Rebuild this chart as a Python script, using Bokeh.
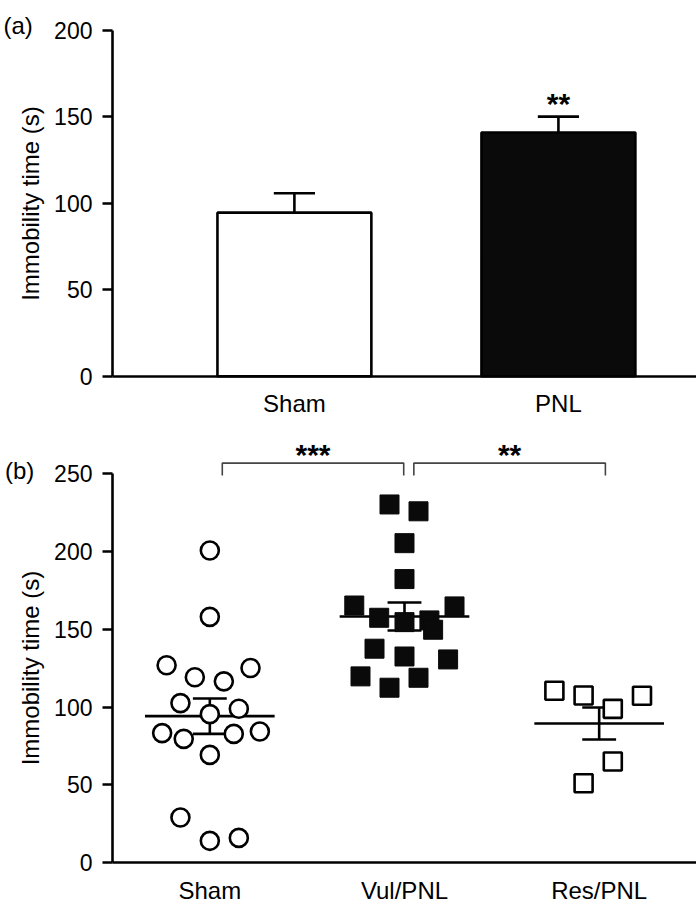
from bokeh.plotting import figure
from bokeh.layouts import column
from bokeh.models import Range1d, FixedTicker
from bokeh.embed import file_html
from bokeh.resources import INLINE
from bokeh.core.properties import value
import numpy as np

FONT = "Liberation Sans"

# ---------------- data: panel (a) ----------------
groups_a = ["Sham", "PNL"]
means_a = [94.5, 140.8]
sems_a = [11.2, 9.2]
fills_a = ["#ffffff", "#0a0a0a"]
stars_a = ["", "**"]

# ---------------- data: panel (b) ----------------
groups_b = ["Sham", "Vul/PNL", "Res/PNL"]
sham_vals = [200.8, 158.1, 127.0, 125.2, 119.2, 116.6, 102.6, 99.0, 95.5,
             83.3, 79.6, 82.8, 84.3, 69.3, 29.0, 14.0, 15.9]
sham_jitter = [0, 0, -0.222, 0.209, -0.077, 0.072, -0.151, 0.149, 0,
               -0.245, -0.134, 0.123, 0.257, 0, -0.151, 0, 0.149]
vul_vals = [230.4, 226.0, 205.5, 182.4, 165.4, 164.8, 157.5, 154.7, 155.8,
            149.8, 137.6, 132.6, 130.7, 119.8, 118.9, 112.5]
vul_jitter = [-0.077, 0.072, 0, 0, -0.258, 0.257, -0.130, 0, 0.128,
              0.147, -0.154, 0, 0.224, -0.226, 0.072, -0.077]
res_vals = [110.6, 107.5, 98.9, 107.3, 65.0, 51.0]
res_jitter = [-0.23, -0.08, 0.07, 0.22, 0.07, -0.08]
means_b = [94.2, 158.3, 89.5]
sems_b = [11.4, 9.0, 10.3]
brackets_b = [(0, 1, "***"), (1, 2, "**")]


def style(p, yticks, ybounds, xbounds, xloc, yloc, xstandoff):
    p.outline_line_color = None
    p.xgrid.visible = False
    p.ygrid.visible = False
    p.background_fill_color = "white"
    p.border_fill_color = "white"
    for ax in (p.xaxis[0], p.yaxis[0]):
        ax.axis_line_width = 2.6
        ax.axis_line_color = "black"
        ax.major_tick_line_width = 2.6
        ax.major_tick_line_color = "black"
        ax.minor_tick_line_color = None
        ax.major_tick_in = 0
        ax.major_label_text_color = "black"
        ax.major_label_text_font = FONT
        ax.axis_label_text_font = FONT
        ax.axis_label_text_font_style = "normal"
        ax.axis_label_text_color = "black"
    p.xaxis.fixed_location = xloc
    p.xaxis.major_tick_out = 0
    p.xaxis.major_label_text_font_size = "24px"
    p.xaxis.major_label_standoff = xstandoff
    p.xaxis.bounds = xbounds
    p.yaxis.fixed_location = yloc
    p.yaxis.major_tick_out = 10
    p.yaxis.major_label_text_font_size = "23px"
    p.yaxis.major_label_standoff = 10
    p.yaxis.axis_label = "Immobility time (s)"
    p.yaxis.axis_label_text_font_size = "24px"
    p.yaxis.axis_label_standoff = 7
    p.yaxis.ticker = FixedTicker(ticks=yticks)
    p.yaxis.bounds = ybounds


# ---------------- panel (a) ----------------
xa = np.arange(len(groups_a)) + 1
xa0, xa1 = 0.311, 2.523
pa = figure(width=696, height=428, output_backend="svg", toolbar_location=None,
            x_range=Range1d(-0.1132, xa1), y_range=Range1d(-30.22, 217.1),
            min_border_left=0, min_border_right=0, min_border_top=0,
            min_border_bottom=0)
style(pa, [0, 50, 100, 150, 200], (0, 200), (xa0, xa1), 0, xa0, 14)
pa.xaxis.ticker = FixedTicker(ticks=list(xa))
pa.xaxis.major_label_overrides = {int(x): g for x, g in zip(xa, groups_a)}

tops_a = np.array(means_a) + np.array(sems_a)
cap_a = 0.078
pa.segment(x0=xa, y0=means_a, x1=xa, y1=tops_a, line_color="black", line_width=2.6)
pa.segment(x0=xa - cap_a, y0=tops_a, x1=xa + cap_a, y1=tops_a,
           line_color="black", line_width=2.6)
pa.vbar(x=xa, top=means_a, bottom=0, width=0.583, fill_color=fills_a,
        line_color="black", line_width=2.6)
pa.text(x=xa, y=tops_a, text=stars_a, text_font=value(FONT), text_font_style="bold",
        text_font_size="30px", text_align="center", text_baseline="alphabetic",
        y_offset=-13, text_color="black")
pa.text(x=[-0.1018], y=[202.5], text=["(a)"], text_font=value(FONT),
        text_font_size="24px", text_baseline="alphabetic", text_align="left",
        text_color="black")

# ---------------- panel (b) ----------------
xb = np.arange(len(groups_b)) + 1
xb0, xb1 = 0.5, 3.5
pb = figure(width=696, height=480, output_backend="svg", toolbar_location=None,
            x_range=Range1d(-0.0753, xb1), y_range=Range1d(-29.53, 279.27),
            min_border_left=0, min_border_right=0, min_border_top=0,
            min_border_bottom=0)
style(pb, [0, 50, 100, 150, 200, 250], (0, 250), (xb0, xb1), 0, xb0, 14)
pb.xaxis.ticker = FixedTicker(ticks=list(xb))
pb.xaxis.major_label_overrides = {int(x): g for x, g in zip(xb, groups_b)}

half = 0.333
capb = 0.087
mb = np.array(means_b)
sb = np.array(sems_b)
pb.segment(x0=xb - half, y0=mb, x1=xb + half, y1=mb, line_color="black", line_width=2.6)
pb.segment(x0=xb, y0=mb - sb, x1=xb, y1=mb + sb, line_color="black", line_width=2.6)
pb.segment(x0=xb - capb, y0=mb + sb, x1=xb + capb, y1=mb + sb, line_color="black", line_width=2.6)
pb.segment(x0=xb - capb, y0=mb - sb, x1=xb + capb, y1=mb - sb, line_color="black", line_width=2.6)

pb.scatter(x=xb[0] + np.array(sham_jitter), y=sham_vals, marker="circle", size=18,
           fill_color="white", line_color="black", line_width=2.6)
pb.scatter(x=xb[1] + np.array(vul_jitter), y=vul_vals, marker="square", size=19,
           fill_color="#0a0a0a", line_color="#0a0a0a", line_width=1)
pb.scatter(x=xb[2] + np.array(res_jitter), y=res_vals, marker="square", size=18,
           fill_color="white", line_color="black", line_width=2.6)

# significance brackets
btop, btip = 257, 249
for i, j, s in brackets_b:
    xl = xb[i] + (0.064 if i == 0 else 0.048)
    xr = xb[j] + (-0.004 if j == 1 else 0.032)
    pb.line(x=[xl, xl, xr, xr], y=[btip, btop, btop, btip], line_color="#444444",
            line_width=1.6)
    pb.text(x=[(xl + xr) / 2], y=[btop], text=[s], text_font=value(FONT),
            text_font_style="bold", text_font_size="30px", text_align="center",
            text_baseline="alphabetic", y_offset=-9, text_color="black")
pb.text(x=[-0.0522], y=[252.2], text=["(b)"], text_font=value(FONT),
        text_font_size="24px", text_baseline="alphabetic", text_align="left",
        text_color="black")

layout = column(pa, pb, spacing=0)
open("out.html", "w").write(file_html(layout, INLINE))
